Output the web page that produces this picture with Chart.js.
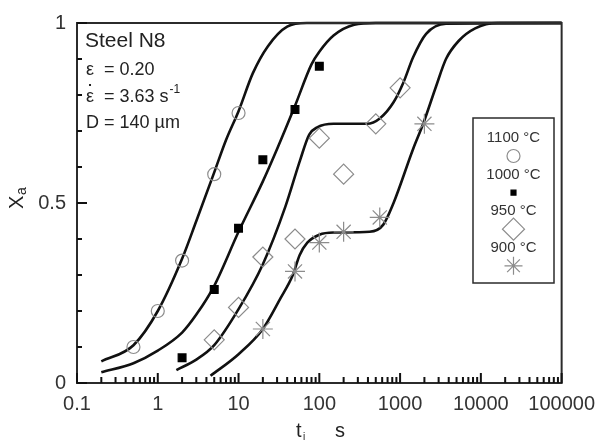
<!DOCTYPE html>
<html>
<head>
<meta charset="utf-8">
<script src="https://cdn.jsdelivr.net/npm/chart.js@4.4.0/dist/chart.umd.min.js"></script>
<style>
html, body { margin: 0; padding: 0; background: #fff; }
</style>
</head>
<body>
<canvas id="xaChart" width="604" height="440"></canvas>
<script>
// series names (legend order)
const seriesNames = ["1100 °C", "1000 °C", "950 °C", "900 °C"];

// fitted curves
const curve1100T = [0.2, 0.5, 1, 2, 3, 5, 7, 10, 15, 23, 40, 70, 100000];
const curve1100X = [0.06, 0.105, 0.2, 0.345, 0.45, 0.585, 0.675, 0.755, 0.86, 0.935, 0.99, 1, 1];

const curve1000T = [0.2, 0.5, 1, 2, 3, 5, 10, 20, 30, 50, 80, 100, 150, 270, 500, 100000];
const curve1000X = [0.03, 0.055, 0.09, 0.14, 0.19, 0.27, 0.42, 0.56, 0.65, 0.77, 0.885, 0.92, 0.965, 0.995, 1, 1];

const curve950T = [1.7, 3, 5, 10, 20, 38, 58, 75, 94, 150, 390, 560, 830, 1100, 1450, 2100, 3700, 100000];
const curve950X = [0.036, 0.065, 0.105, 0.205, 0.33, 0.49, 0.62, 0.69, 0.71, 0.72, 0.72, 0.735, 0.78, 0.835, 0.905, 0.97, 0.998, 1];

const curve900T = [4.5, 10, 20, 33, 47, 57, 71, 100, 150, 420, 620, 830, 1450, 1930, 2800, 3700, 5300, 8500, 16000, 100000];
const curve900X = [0.02, 0.08, 0.15, 0.235, 0.3, 0.355, 0.39, 0.412, 0.418, 0.42, 0.44, 0.5, 0.65, 0.72, 0.825, 0.9, 0.95, 0.985, 1, 1];

// measured points
const pts1100T = [0.5, 1, 2, 5, 10];
const pts1100X = [0.1, 0.2, 0.34, 0.58, 0.75];
const pts1000T = [2, 5, 10, 20, 50, 100];
const pts1000X = [0.07, 0.26, 0.43, 0.62, 0.76, 0.88];
const pts950T = [5, 10, 20, 50, 100, 200, 500, 1000];
const pts950X = [0.12, 0.21, 0.35, 0.4, 0.68, 0.58, 0.72, 0.82];
const pts900T = [20, 50, 100, 200, 560, 2000];
const pts900X = [0.15, 0.31, 0.39, 0.42, 0.46, 0.72];

// axis ticks
const xTickValues = [0.1, 1, 10, 100, 1000, 10000, 100000];
const yTickValues = [0, 0.5, 1];
const yMinorStep = 0.1;

const FONT = "'Liberation Sans', Arial, sans-serif";
const GREY = "#8c8c8c";

function toXY(ts, xs) {
    return ts.map((t, i) => ({ x: t, y: xs[i] }));
}

function curveSet(ts, xs) {
    return {
        type: "line",
        data: toXY(ts, xs),
        borderColor: "#111",
        borderWidth: 2.6,
        pointRadius: 0,
        fill: false,
        cubicInterpolationMode: "monotone",
        clip: 6,
        order: 2,
    };
}

// marker look for each series
const markers = [
    { pointStyle: "circle", radius: 6.5, color: GREY, fill: "rgba(0,0,0,0)" },
    { pointStyle: "rect", radius: 5.5, color: "#000", fill: "#000" },
    { pointStyle: "rectRot", radius: 10, color: GREY, fill: "rgba(0,0,0,0)" },
    { pointStyle: "star", radius: 10, color: GREY, fill: "rgba(0,0,0,0)" },
];

function pointSet(ts, xs, k) {
    const m = markers[k];
    return {
        type: "scatter",
        label: seriesNames[k],
        data: toXY(ts, xs),
        showLine: false,
        pointStyle: m.pointStyle,
        pointRadius: m.radius,
        pointBorderColor: m.color,
        pointBackgroundColor: m.fill,
        pointBorderWidth: 1.2,
        order: 1,
    };
}

const datasets = [
    curveSet(curve1100T, curve1100X),
    curveSet(curve1000T, curve1000X),
    curveSet(curve950T, curve950X),
    curveSet(curve900T, curve900X),
    pointSet(pts1100T, pts1100X, 0),
    pointSet(pts1000T, pts1000X, 1),
    pointSet(pts950T, pts950X, 2),
    pointSet(pts900T, pts900X, 3),
];

const decorations = {
    id: "decorations",
    afterDraw(chart) {
        const ctx = chart.ctx;
        const a = chart.chartArea;
        const xs = chart.scales.x;
        const ys = chart.scales.y;
        ctx.save();

        // frame
        ctx.strokeStyle = "#2b2b2b";
        ctx.lineWidth = 2;
        ctx.strokeRect(a.left, a.top, a.right - a.left, a.bottom - a.top);

        // inward tick marks
        ctx.fillStyle = "#111";
        xTickValues.forEach((d) => {
            [1, 2, 3, 4, 5, 6, 7, 8, 9].forEach((m) => {
                const v = d * m;
                if (v > 100001) return;
                const px = xs.getPixelForValue(v);
                const len = m === 1 ? 10 : 6;
                ctx.fillRect(px - 1, a.bottom - len, 2, len);
            });
        });
        for (let i = 0; i <= 10; i++) {
            const py = ys.getPixelForValue(i * yMinorStep);
            const len = i % 5 === 0 ? 10 : 5;
            ctx.fillRect(a.left, py - 1, len, 2);
        }

        // info text top-left
        ctx.fillStyle = "#222";
        ctx.textAlign = "left";
        ctx.textBaseline = "alphabetic";
        ctx.font = "21px " + FONT;
        ctx.fillText("Steel N8", a.left + 8, 47);
        ctx.font = "18px " + FONT;
        ctx.fillText("ε  = 0.20", a.left + 9, 75);
        const line2 = "ε  = 3.63 s";
        ctx.fillText(line2, a.left + 9, 102);
        const epsW = ctx.measureText("ε").width;
        ctx.fillRect(a.left + 9 + epsW / 2 - 1, 84, 2, 2);
        const w1 = ctx.measureText(line2).width;
        ctx.font = "12px " + FONT;
        ctx.fillText("-1", a.left + 9 + w1 + 1, 93);
        ctx.font = "18px " + FONT;
        ctx.fillText("D = 140 µm", a.left + 9, 128);

        // legend box
        const bx = 473, by = 118, bw = 81, bh = 165;
        ctx.strokeStyle = "#2b2b2b";
        ctx.lineWidth = 1.5;
        ctx.strokeRect(bx, by, bw, bh);
        const cx = bx + bw / 2;
        ctx.textAlign = "center";
        ctx.textBaseline = "middle";
        const legendSize = [6.5, 3.5, 11, 9];
        seriesNames.forEach((name, k) => {
            const ty = 138 + k * 36.6;
            ctx.font = "15px " + FONT;
            ctx.fillStyle = "#333";
            ctx.fillText(name, cx, ty);
            const m = markers[k];
            ctx.fillStyle = m.fill;
            ctx.strokeStyle = m.color;
            ctx.lineWidth = 1.2;
            Chart.helpers.drawPoint(ctx, { pointStyle: m.pointStyle, radius: legendSize[k], rotation: 0, borderWidth: 1.2 }, cx, ty + 18);
        });

        // axis titles
        ctx.fillStyle = "#222";
        ctx.textAlign = "left";
        ctx.textBaseline = "alphabetic";
        ctx.font = "20px " + FONT;
        ctx.fillText("t", 296, 437);
        ctx.font = "10px " + FONT;
        ctx.fillText("i", 303, 440);
        ctx.font = "20px " + FONT;
        ctx.fillText("s", 335, 437);

        ctx.save();
        ctx.translate(23, 209);
        ctx.rotate(-Math.PI / 2);
        ctx.font = "20px " + FONT;
        ctx.fillText("X", 0, 0);
        ctx.font = "14px " + FONT;
        ctx.fillText("a", 14, 3);
        ctx.restore();

        ctx.restore();
    },
};

new Chart(document.getElementById("xaChart"), {
    type: "scatter",
    data: { datasets },
    options: {
        responsive: false,
        animation: false,
        layout: { padding: { top: 18, right: 37, left: 0, bottom: 0 } },
        plugins: {
            legend: { display: false },
            tooltip: { enabled: false },
        },
        scales: {
            x: {
                type: "logarithmic",
                min: 0.1,
                max: 100000,
                afterBuildTicks: (scale) => {
                    scale.ticks = xTickValues.map((v) => ({ value: v }));
                },
                afterFit: (scale) => {
                    scale.height = 57;
                },
                ticks: {
                    autoSkip: false,
                    maxRotation: 0,
                    padding: 9,
                    color: "#333",
                    font: { size: 20, family: FONT },
                    callback: (v) => String(v),
                },
                grid: { display: false, drawTicks: false },
                border: { display: false },
            },
            y: {
                min: 0,
                max: 1,
                afterBuildTicks: (scale) => {
                    scale.ticks = yTickValues.map((v) => ({ value: v }));
                },
                afterFit: (scale) => {
                    scale.width = 77;
                },
                ticks: {
                    padding: 11,
                    color: "#333",
                    font: { size: 20, family: FONT },
                    callback: (v) => String(v),
                },
                grid: { display: false, drawTicks: false },
                border: { display: false },
            },
        },
    },
    plugins: [decorations],
});
</script>
</body>
</html>
